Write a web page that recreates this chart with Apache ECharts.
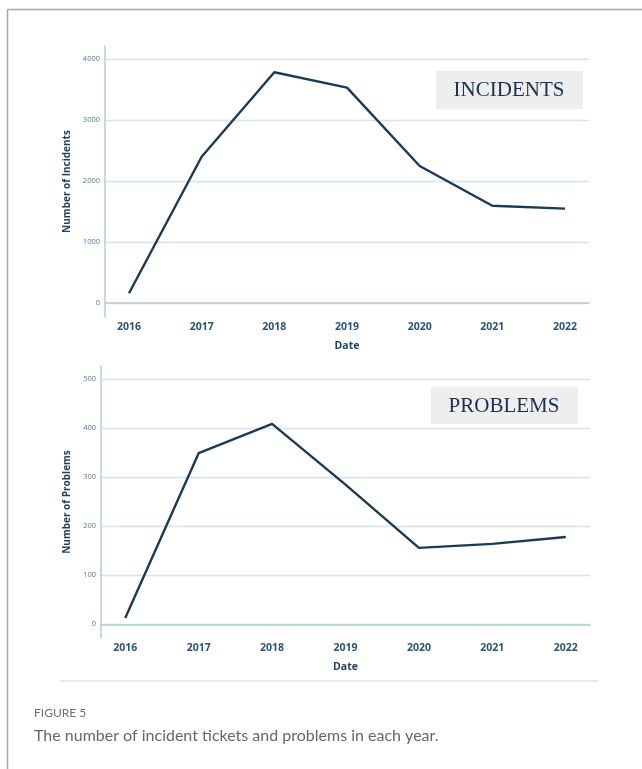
<!DOCTYPE html>
<html>
<head>
<meta charset="utf-8">
<script src="https://cdn.jsdelivr.net/npm/echarts@6/dist/echarts.min.js"></script>
<style>
  html, body { margin: 0; padding: 0; background: #fff; }
  #chart { width: 642px; height: 769px; }
</style>
</head>
<body>
<div id="chart"></div>
<script>
// years on the x axis
var years = [2016, 2017, 2018, 2019, 2020, 2021, 2022]
// values
var incidents = [159, 2398, 3782, 3530, 2246, 1595, 1546]
var problems = [13, 349, 409, 285, 156, 164, 178]
var incidentTicks = [0, 1000, 2000, 3000, 4000]
var problemTicks = [0, 100, 200, 300, 400, 500]

var lineColor = '#1b3a56'
var gridColor = '#d6e3ea'
var axisColor = '#b6cbd6'
var labelColor = '#2d5272'

function pairs(xs, ys) {
  return xs.map(function (x, i) { return [x, ys[i]] })
}

function xAxisFor(gridIndex) {
  return {
    type: 'value',
    gridIndex: gridIndex,
    min: 2015.67,
    max: 2022.33,
    name: 'Date',
    nameLocation: 'middle',
    nameGap: 24,
    nameTextStyle: { color: '#1f3f5e', fontSize: 10.5, fontWeight: 'bold', fontFamily: 'Open Sans' },
    axisLine: { show: true, lineStyle: { color: axisColor, width: 1.5 } },
    axisTick: { show: false, customValues: years },
    splitLine: { show: false },
    axisLabel: {
      customValues: years,
      margin: 5,
      color: labelColor,
      fontSize: 10.5,
      fontWeight: 'bold',
      fontFamily: 'Open Sans',
      formatter: function (v) { return String(v) }
    }
  }
}

function yAxisFor(gridIndex, min, max, ticks, name) {
  return {
    type: 'value',
    gridIndex: gridIndex,
    min: min,
    max: max,
    name: name,
    nameLocation: 'middle',
    nameGap: 28,
    nameTextStyle: { color: '#1f3f5e', fontSize: 10, fontWeight: 'bold', fontFamily: 'Open Sans' },
    axisLine: { show: true, lineStyle: { color: axisColor, width: 1.5 } },
    axisTick: { show: false, customValues: ticks },
    splitLine: { show: true, lineStyle: { color: gridColor, width: 1.3 } },
    axisLabel: {
      customValues: ticks,
      margin: 5,
      color: '#5b7b92',
      fontSize: 7.5,
      fontFamily: 'Open Sans',
      formatter: function (v) { return String(v) }
    }
  }
}

var chart = echarts.init(document.getElementById('chart'))
chart.setOption({
  backgroundColor: '#fff',
  animation: false,
  grid: [
    { left: 105, top: 46, width: 484, height: 271 },
    { left: 101, top: 366, width: 489, height: 272 }
  ],
  xAxis: [xAxisFor(0), xAxisFor(1)],
  yAxis: [
    yAxisFor(0, -230, 4213, incidentTicks, 'Number of Incidents'),
    yAxisFor(1, -28, 527, problemTicks, 'Number of Problems')
  ],
  series: [
    {
      type: 'line',
      xAxisIndex: 0,
      yAxisIndex: 0,
      data: pairs(years, incidents),
      showSymbol: false,
      lineStyle: { color: lineColor, width: 2.4 }
    },
    {
      type: 'line',
      xAxisIndex: 1,
      yAxisIndex: 1,
      data: pairs(years, problems),
      showSymbol: false,
      lineStyle: { color: lineColor, width: 2.4 }
    }
  ],
  graphic: [
    // page frame
    { type: 'line', shape: { x1: 7.5, y1: 9.5, x2: 642, y2: 9.5 }, style: { stroke: '#a6a6a6', lineWidth: 1.5 } },
    { type: 'line', shape: { x1: 7.5, y1: 9.5, x2: 7.5, y2: 769 }, style: { stroke: '#a6a6a6', lineWidth: 1.5 } },
    // bottom edge of the figure image
    { type: 'line', shape: { x1: 60, y1: 681, x2: 598, y2: 681 }, style: { stroke: '#e9e9e9', lineWidth: 2 } },
    // panel labels
    { type: 'rect', shape: { x: 436, y: 71, width: 147, height: 38 }, style: { fill: '#eeeeee' } },
    {
      type: 'text', x: 509, y: 90,
      style: { text: 'INCIDENTS', fill: '#1b3050', font: '21px "Liberation Serif"', textAlign: 'center', textVerticalAlign: 'middle' }
    },
    { type: 'rect', shape: { x: 431, y: 387, width: 147, height: 37 }, style: { fill: '#eeeeee' } },
    {
      type: 'text', x: 504, y: 406,
      style: { text: 'PROBLEMS', fill: '#1b3050', font: '21px "Liberation Serif"', textAlign: 'center', textVerticalAlign: 'middle' }
    },
    // caption
    {
      type: 'text', x: 34, y: 713,
      style: { text: 'FIGURE 5', fill: '#6e6e6e', font: '12px Lato', textVerticalAlign: 'middle' }
    },
    {
      type: 'text', x: 34, y: 736,
      style: { text: 'The number of incident tickets and problems in each year.', fill: '#666666', font: '16px Lato', textVerticalAlign: 'middle' }
    }
  ]
})
</script>
</body>
</html>
